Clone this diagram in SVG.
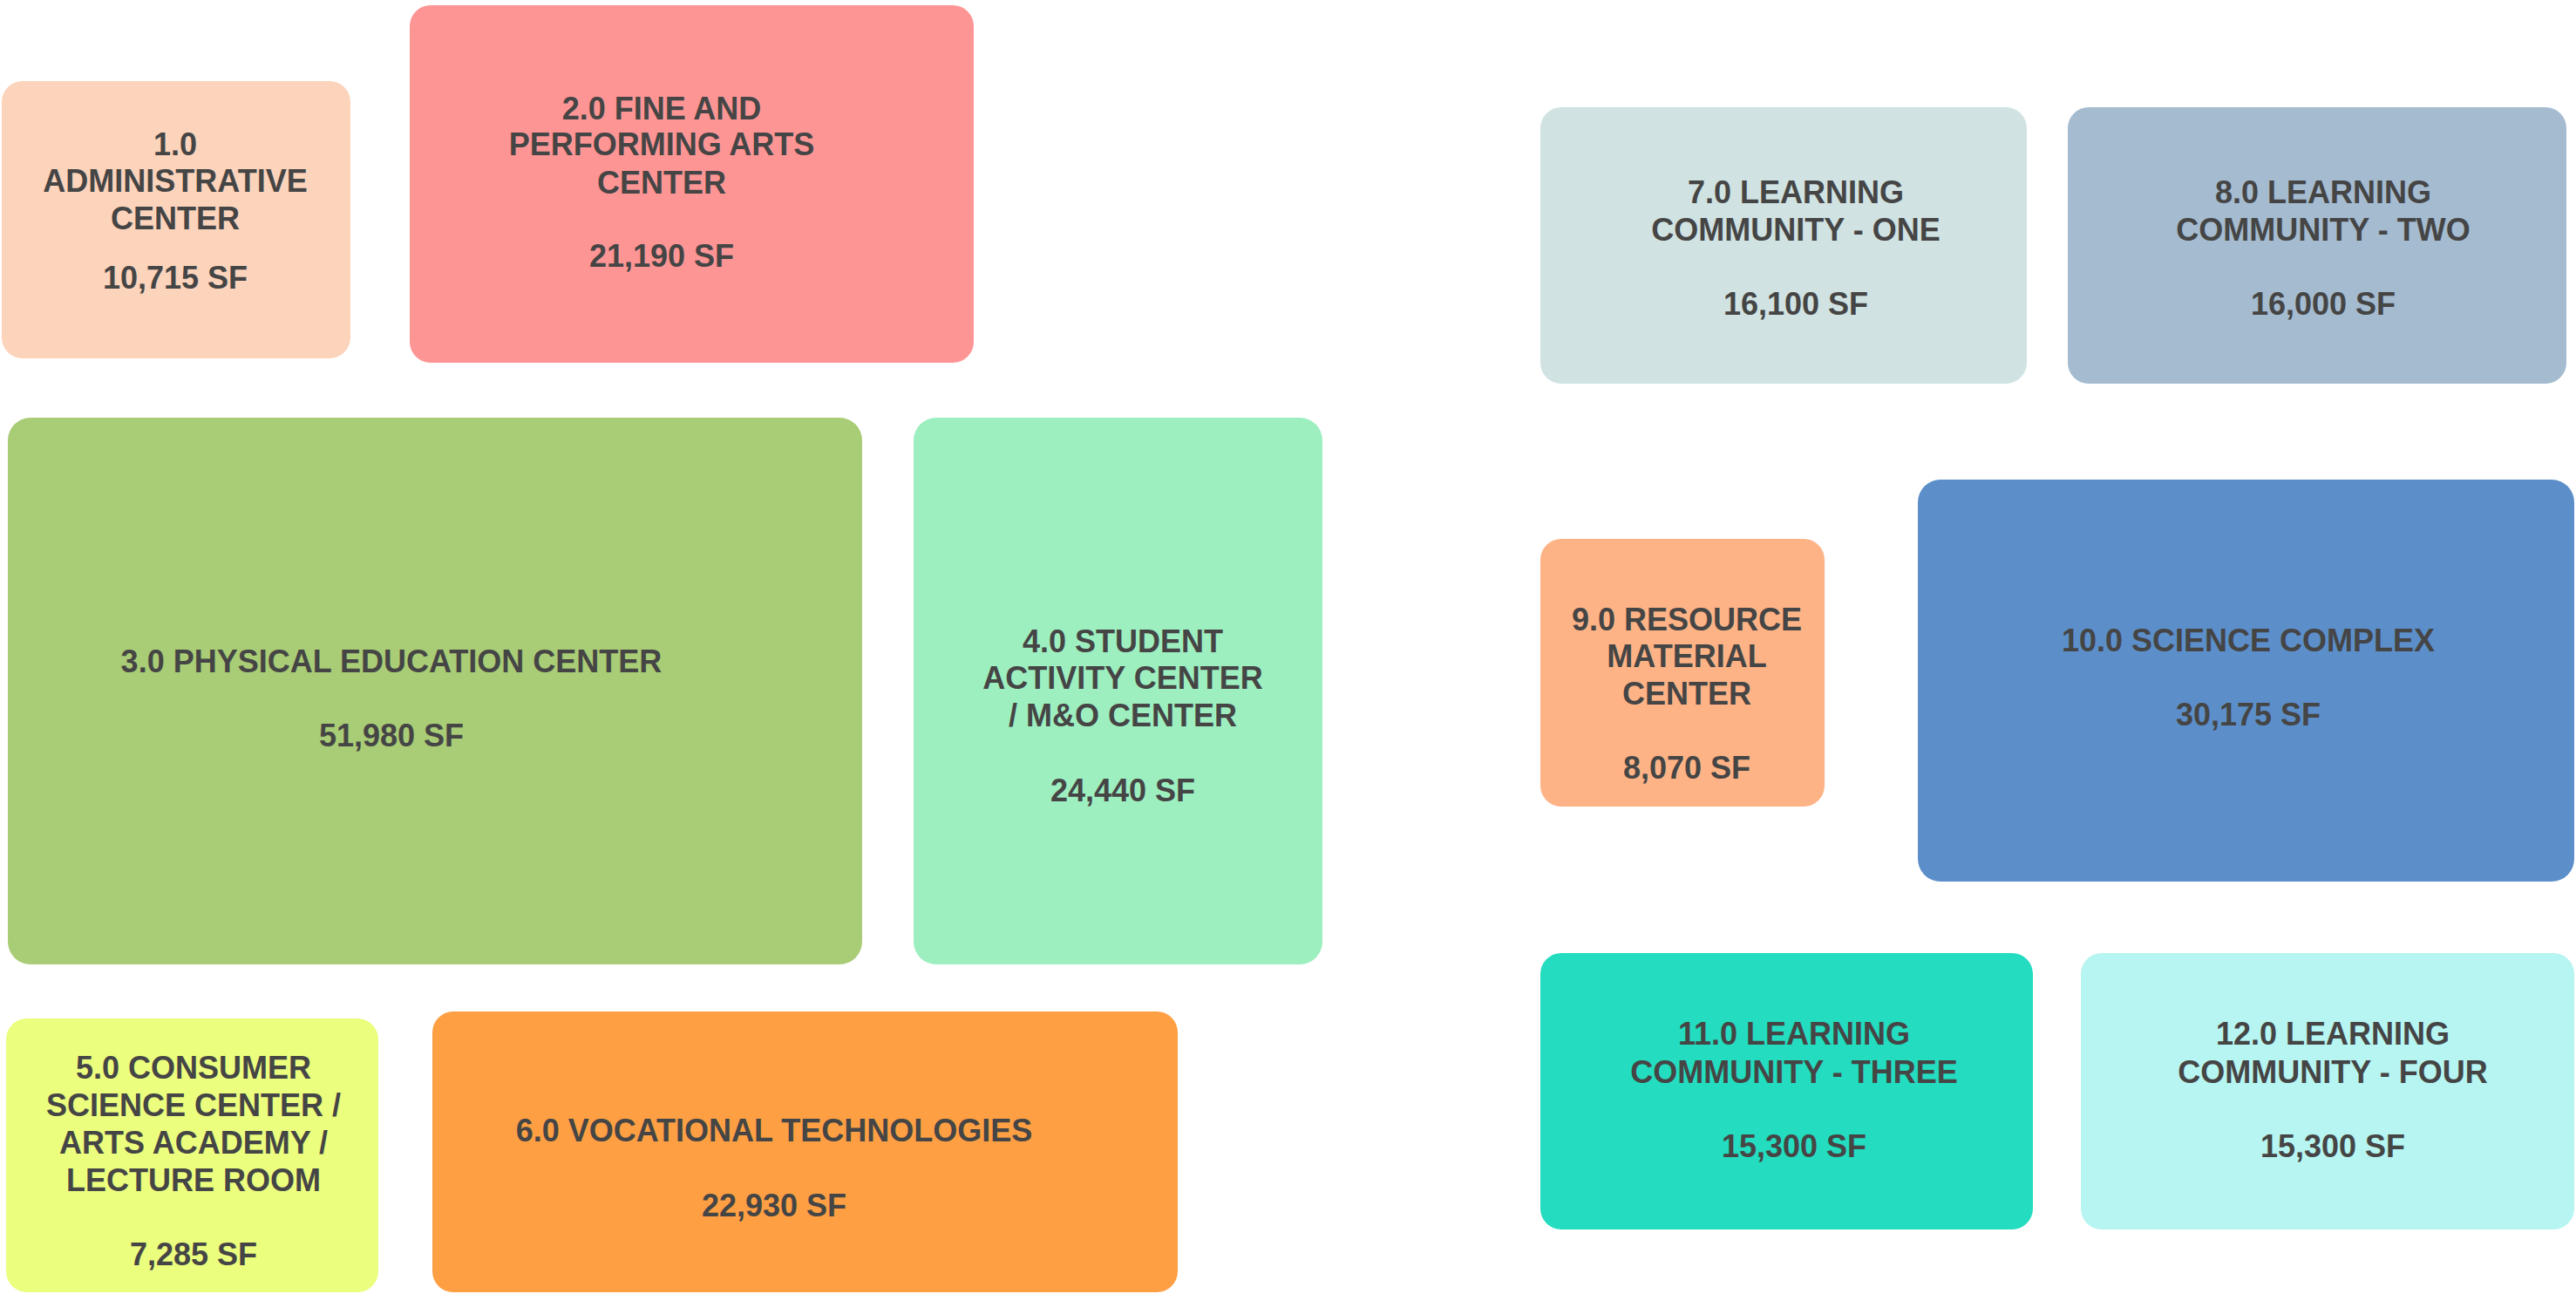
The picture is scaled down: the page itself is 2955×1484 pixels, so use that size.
<svg xmlns="http://www.w3.org/2000/svg" width="2955" height="1484" viewBox="0 0 2955 1484">
<style>
.box{stroke:none}
.t{font-family:"Liberation Sans",Arial,sans-serif;font-weight:bold;font-size:36px;fill:#454545;text-anchor:middle}
</style>
<rect width="2955" height="1484" fill="#ffffff"/>
<g id="connectors"/>
<g id="node1">
<rect class="box" x="2" y="93" width="400" height="318" rx="24" fill="#FCD3BB"/>
<text class="t" x="201" y="178">1.0</text>
<text class="t" x="201" y="220">ADMINISTRATIVE</text>
<text class="t" x="201" y="263">CENTER</text>
<text class="t" x="201" y="331">10,715 SF</text>
</g>
<g id="node2">
<rect class="box" x="470" y="6" width="647" height="410" rx="24" fill="#FE9595"/>
<text class="t" x="759" y="137">2.0 FINE AND</text>
<text class="t" x="759" y="178">PERFORMING ARTS</text>
<text class="t" x="759" y="222">CENTER</text>
<text class="t" x="759" y="306">21,190 SF</text>
</g>
<g id="node3">
<rect class="box" x="9" y="479" width="980" height="627" rx="26" fill="#A9CC76"/>
<text class="t" x="449" y="771">3.0 PHYSICAL EDUCATION CENTER</text>
<text class="t" x="449" y="856">51,980 SF</text>
</g>
<g id="node4">
<rect class="box" x="1048" y="479" width="469" height="627" rx="26" fill="#9DEFC0"/>
<text class="t" x="1288" y="748">4.0 STUDENT</text>
<text class="t" x="1288" y="790">ACTIVITY CENTER</text>
<text class="t" x="1288" y="833">/ M&amp;O CENTER</text>
<text class="t" x="1288" y="919">24,440 SF</text>
</g>
<g id="node5">
<rect class="box" x="7" y="1168" width="427" height="314" rx="24" fill="#EBFE7E"/>
<text class="t" x="222" y="1237">5.0 CONSUMER</text>
<text class="t" x="222" y="1280">SCIENCE CENTER /</text>
<text class="t" x="222" y="1323">ARTS ACADEMY /</text>
<text class="t" x="222" y="1366">LECTURE ROOM</text>
<text class="t" x="222" y="1451">7,285 SF</text>
</g>
<g id="node6">
<rect class="box" x="496" y="1160" width="855" height="322" rx="24" fill="#FE9F43"/>
<text class="t" x="888" y="1309">6.0 VOCATIONAL TECHNOLOGIES</text>
<text class="t" x="888" y="1395">22,930 SF</text>
</g>
<g id="node7">
<rect class="box" x="1767" y="123" width="558" height="317" rx="24" fill="#D0E2E2"/>
<text class="t" x="2060" y="233">7.0 LEARNING</text>
<text class="t" x="2060" y="276">COMMUNITY - ONE</text>
<text class="t" x="2060" y="361">16,100 SF</text>
</g>
<g id="node8">
<rect class="box" x="2372" y="123" width="572" height="317" rx="24" fill="#A4BBD0"/>
<text class="t" x="2665" y="233">8.0 LEARNING</text>
<text class="t" x="2665" y="276">COMMUNITY - TWO</text>
<text class="t" x="2665" y="361">16,000 SF</text>
</g>
<g id="node9">
<rect class="box" x="1767" y="618" width="326" height="307" rx="24" fill="#FDB386"/>
<text class="t" x="1935" y="723">9.0 RESOURCE</text>
<text class="t" x="1935" y="765">MATERIAL</text>
<text class="t" x="1935" y="808">CENTER</text>
<text class="t" x="1935" y="893">8,070 SF</text>
</g>
<g id="node10">
<rect class="box" x="2200" y="550" width="753" height="461" rx="26" fill="#5C8FCA"/>
<text class="t" x="2579" y="747">10.0 SCIENCE COMPLEX</text>
<text class="t" x="2579" y="832">30,175 SF</text>
</g>
<g id="node11">
<rect class="box" x="1767" y="1093" width="565" height="317" rx="24" fill="#24DCBF"/>
<text class="t" x="2058" y="1198">11.0 LEARNING</text>
<text class="t" x="2058" y="1242">COMMUNITY - THREE</text>
<text class="t" x="2058" y="1327">15,300 SF</text>
</g>
<g id="node12">
<rect class="box" x="2387" y="1093" width="566" height="317" rx="24" fill="#B6F5F1"/>
<text class="t" x="2676" y="1198">12.0 LEARNING</text>
<text class="t" x="2676" y="1242">COMMUNITY - FOUR</text>
<text class="t" x="2676" y="1327">15,300 SF</text>
</g>
</svg>
